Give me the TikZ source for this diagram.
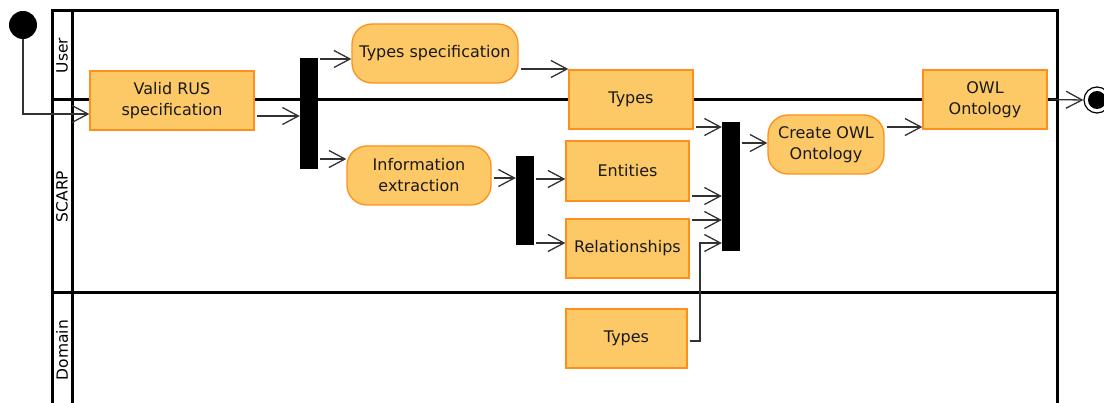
\documentclass[tikz,border=0pt]{standalone}
\usepackage{fontspec}
\setmainfont{DejaVu Sans}
\usetikzlibrary{arrows.meta}
\definecolor{actfill}{RGB}{253,201,102}
\definecolor{actedge}{RGB}{255,143,28}
\definecolor{flowgray}{RGB}{50,50,50}
\begin{document}
\begin{tikzpicture}[x=1pt, y=-1pt,
  font=\fontsize{16}{21}\selectfont,
  actbox/.style={draw=actedge, fill=actfill, line width=1.3pt, text=black!90,
    align=center, inner sep=0pt, minimum height=59pt},
  action/.style={actbox, rounded corners=20pt},
  syncbar/.style={fill=black, inner sep=0pt, minimum width=18pt},
  flow/.style={draw=flowgray, line width=1.3pt, shorten <=2pt,
    -{Straight Barb[length=16pt, width=17pt, line width=1.3pt]}},
  lanerule/.style={line width=3pt, black},
  lanelabel/.style={rotate=90, font=\fontsize{15.5}{18}\selectfont},
  initial/.style={circle, fill=black, inner sep=0pt, minimum size=28pt},
  final/.style={circle, draw=black, line width=1.2pt, fill=white, inner sep=0pt, minimum size=26pt},
  finaldot/.style={circle, fill=black, inner sep=0pt, minimum size=18pt}]

\clip (0,0) rectangle (1104,403);

% swimlane frame
\draw[lanerule] (52,420) -- (52,11) -- (1057,11) -- (1057,420);
\draw[lanerule] (72,11) -- (72,420);
\draw[lanerule] (52,100) -- (1057,100);
\draw[lanerule] (52,293) -- (1057,293);

\node[lanelabel] (luser) at (62,55.5) {User};
\node[lanelabel] (lscarp) at (62,196.5) {SCARP};
\node[lanelabel] (ldomain) at (62,350) {Domain};

% nodes
\node[initial] (start) at (23,25) {};
\node[actbox, minimum width=164pt] (vrus) at (172,100.5) {Valid RUS\\specification};
\node[syncbar, minimum height=111pt] (bar1) at (309,113.5) {};
\node[action, minimum width=166pt] (tspec) at (435,53.5) {Types specification};
\node[action, minimum width=144pt] (info) at (419,175.5) {Information\\extraction};
\node[actbox, minimum width=124pt] (typesU) at (631,99.5) {Types};
\node[syncbar, minimum height=89pt] (bar2) at (525,200.5) {};
\node[actbox, minimum width=123pt, minimum height=60pt] (ent) at (627.5,171) {Entities};
\node[actbox, minimum width=123pt] (rel) at (627.5,248.5) {Relationships};
\node[actbox, minimum width=121pt] (typesD) at (626.5,338.5) {Types};
\node[syncbar, minimum height=129pt] (bar3) at (731,186.5) {};
\node[action, minimum width=116pt] (cowl) at (826,144.5) {Create OWL\\Ontology};
\node[actbox, minimum width=124pt] (owl) at (985,99.5) {OWL\\Ontology};
\node[final] (end) at (1097,100) {};
\node[finaldot] (enddot) at (end.center) {};

% control flow
\draw[flow, shorten <=0pt] (start.south) |- (vrus.west |- 0,114);
\draw[flow] (vrus.east |- 0,116) -- (bar1.west |- 0,116);
\draw[flow] (bar1.east |- 0,59) -- (tspec.west |- 0,59);
\draw[flow] (bar1.east |- 0,159) -- (info.west |- 0,159);
\draw[flow] (tspec.east |- 0,69) -- (typesU.west |- 0,69);
\draw[flow] (info.east |- 0,178) -- (bar2.west |- 0,178);
\draw[flow] (bar2.east |- 0,179) -- (ent.west |- 0,179);
\draw[flow] (bar2.east |- 0,243) -- (rel.west |- 0,243);
\draw[flow] (typesU.east |- 0,127) -- (bar3.west |- 0,127);
\draw[flow] (ent.east |- 0,196) -- (bar3.west |- 0,196);
\draw[flow] (rel.east |- 0,220) -- (bar3.west |- 0,220);
\coordinate (bend) at (700,243);
\draw[flow] (typesD.east |- 0,341) -| (bend) -- (bar3.west |- bend);
\draw[flow] (bar3.east |- 0,143) -- (cowl.west |- 0,143);
\draw[flow] (cowl.east |- 0,127) -- (owl.west |- 0,127);
\draw[flow] (owl.east) -- (end.west);
\end{tikzpicture}
\end{document}
